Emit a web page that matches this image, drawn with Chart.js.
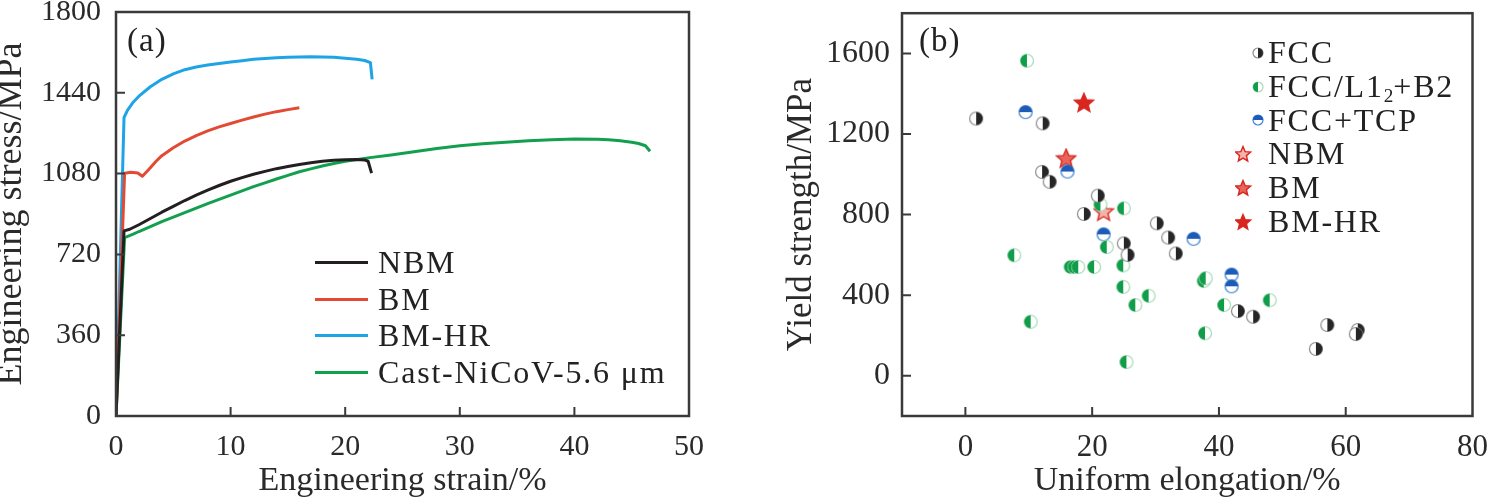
<!DOCTYPE html>
<html>
<head>
<meta charset="utf-8">
<script src="https://cdn.jsdelivr.net/npm/chart.js@4.4.1/dist/chart.umd.min.js"></script>
<style>
  html, body { margin: 0; padding: 0; background: #fff; }
  body { width: 1491px; height: 501px; position: relative; overflow: hidden;
         font-family: 'Liberation Serif', 'Times New Roman', serif; color: #222; }
  .panel { position: absolute; }
  .tag { position: absolute; font-size: 33px; line-height: 36px; letter-spacing: 1px; }
  .legend { position: absolute; font-size: 32px; letter-spacing: 1.8px; }
  .leg-row { display: flex; align-items: center; white-space: nowrap; }
  .leg-line { width: 53px; height: 3px; margin-right: 10px; flex: none; }
  .leg-mk { flex: none; margin-right: 1px; }
  sub { font-size: 60%; vertical-align: -0.28em; line-height: 0; letter-spacing: 0; }
</style>
</head>
<body>
<div class="panel" style="left:-8px;top:-21px;width:753px;height:522px"><canvas id="c-a"></canvas></div>
<div class="panel" style="left:745px;top:-18px;width:756px;height:519px"><canvas id="c-b"></canvas></div>
<div class="tag" style="left:127px;top:22px">(a)</div>
<div class="tag" style="left:919px;top:22px">(b)</div>
<div class="legend" id="leg-a" style="left:315px;top:244px;line-height:36.7px"></div>
<div class="legend" id="leg-b" style="left:1235px;top:36px;line-height:33.8px"></div>

<script>
// ---- (a) engineering stress-strain curves ----
const nbmStrain = [0, 0.7, 1.2, 2, 3, 4, 5, 6, 7, 8, 9, 10, 11, 12, 13, 14, 15, 16, 17, 18, 19, 20, 21, 21.7, 22.0, 22.3];
const nbmStress = [0, 825, 832, 852, 880, 908, 934, 960, 984, 1006, 1027, 1046, 1062, 1077, 1090, 1102, 1112, 1121, 1128, 1135, 1139, 1142, 1143, 1141, 1135, 1082];

const bmStrain = [0, 0.75, 1.3, 1.9, 2.3, 2.8, 3.5, 4, 5, 6, 7, 8, 9, 10, 11, 12, 13, 14, 15, 16];
const bmStress = [0, 1082, 1086, 1083, 1068, 1095, 1135, 1160, 1195, 1225, 1249, 1270, 1288, 1303, 1318, 1332, 1345, 1356, 1365, 1373];

const bmhrStrain = [0, 0.7, 1.0, 1.5, 2, 3, 4, 5, 6, 7, 8, 9, 10, 11, 12, 13, 14, 15, 16, 17, 18, 19, 20, 21, 21.7, 22.2, 22.35];
const bmhrStress = [0, 1330, 1362, 1398, 1425, 1467, 1500, 1524, 1543, 1555, 1564, 1571, 1577, 1583, 1589, 1593, 1596, 1598, 1600, 1601, 1600, 1598, 1594, 1589, 1584, 1574, 1500];

const castStrain = [0, 0.75, 1.5, 2, 3, 4, 5, 6, 7, 8, 9, 10, 11, 12, 13, 14, 15, 16, 17, 18, 19, 20, 22, 24, 26, 28, 30, 32, 34, 36, 38, 40, 42, 43, 44, 45, 45.6, 46.2, 46.6];
const castStress = [0, 795, 810, 822, 844, 866, 886, 906, 926, 946, 965, 984, 1003, 1022, 1039, 1056, 1072, 1088, 1101, 1114, 1125, 1135, 1150, 1163, 1177, 1192, 1204, 1213, 1220, 1226, 1231, 1234, 1233, 1231, 1226, 1220, 1214, 1204, 1180];

const strainTicks = [0, 10, 20, 30, 40, 50];
const stressTicks = [0, 360, 720, 1080, 1440, 1800];

// ---- (b) yield strength vs uniform elongation ----
const fccX = [1.7, 12.2, 12.1, 13.3, 20.9, 18.7, 30.2, 32.0, 25.0, 25.6, 33.2, 43.0, 45.4, 57.1, 61.9, 61.6, 55.3];
const fccY = [1277, 1253, 1012, 963, 894, 803, 757, 686, 657, 600, 607, 321, 293, 252, 227, 207, 133];

const l12X = [9.7, 21.3, 25.0, 22.3, 7.7, 16.6, 17.2, 17.8, 20.3, 24.9, 24.9, 28.9, 26.8, 10.3, 25.4, 37.6, 37.9, 48.0, 40.8, 37.8];
const l12Y = [1564, 850, 831, 639, 598, 540, 540, 540, 540, 548, 441, 397, 351, 268, 68, 470, 484, 375, 351, 211];

const tcpX = [9.5, 16.1, 21.8, 36.0, 42.0, 42.0];
const tcpY = [1309, 1014, 702, 680, 502, 444];

const nbmPt = [21.8, 815];
const bmPt = [15.9, 1078];
const bmhrPt = [18.7, 1355];

const elongTicks = [0, 20, 40, 60, 80];
const yieldTicks = [0, 400, 800, 1200, 1600];

const pts = (xs, ys) => xs.map((x, i) => ({ x, y: ys[i] }));

Chart.defaults.font.family = "'Liberation Serif', 'Times New Roman', serif";
Chart.defaults.color = '#2a2a2a';

// frame and inward tick marks, like the original plots
const frameTicks = {
  id: 'frameTicks',
  afterDraw(chart) {
    const { ctx, chartArea: a, scales } = chart;
    ctx.save();
    ctx.strokeStyle = '#3a3a3a';
    ctx.lineWidth = 2;
    ctx.beginPath();
    for (const t of scales.x.ticks) {
      const px = scales.x.getPixelForValue(t.value);
      if (px <= a.left + 2 || px >= a.right - 2) continue;
      ctx.moveTo(px, a.bottom); ctx.lineTo(px, a.bottom - 9);
    }
    for (const t of scales.y.ticks) {
      const py = scales.y.getPixelForValue(t.value);
      if (py <= a.top + 2 || py >= a.bottom - 2) continue;
      ctx.moveTo(a.left, py); ctx.lineTo(a.left + 9, py);
    }
    ctx.stroke();
    ctx.lineWidth = 2.5;
    ctx.strokeRect(a.left, a.top, a.right - a.left, a.bottom - a.top);
    ctx.restore();
  }
};

function axis(min, max, tickList, width, height, titleText, titleSize, titlePad, tickSize, tickPad) {
  return {
    type: 'linear', min, max,
    grid: { display: false, drawTicks: false },
    border: { display: false },
    afterBuildTicks: s => { s.ticks = tickList.map(v => ({ value: v })); },
    afterFit: s => { if (width) s.width = width; if (height) s.height = height; },
    ticks: { font: { size: tickSize }, padding: tickPad, color: '#2a2a2a', callback: v => String(v) },
    title: { display: true, text: titleText, color: '#2a2a2a',
             font: { size: titleSize, lineHeight: 1 }, padding: titlePad },
  };
}

// ---- chart (a) ----
const curves = [
  { label: 'NBM', color: '#231f20', xs: nbmStrain, ys: nbmStress },
  { label: 'BM', color: '#e34a33', xs: bmStrain, ys: bmStress },
  { label: 'BM-HR', color: '#1ea4e6', xs: bmhrStrain, ys: bmhrStress },
  { label: 'Cast-NiCoV-5.6 μm', color: '#12a04e', xs: castStrain, ys: castStress },
];

new Chart(document.getElementById('c-a'), {
  type: 'scatter',
  data: {
    datasets: curves.map(c => ({
      label: c.label, data: pts(c.xs, c.ys),
      showLine: true, borderColor: c.color, backgroundColor: c.color,
      borderWidth: 3, pointRadius: 0, tension: 0, borderJoinStyle: 'round',
    })),
  },
  options: {
    responsive: true, maintainAspectRatio: false, animation: false,
    layout: { padding: { top: 0, right: 56, left: 0, bottom: 0 } },
    plugins: { legend: { display: false }, tooltip: { enabled: false } },
    scales: {
      x: axis(0, 50, strainTicks, 0, 85, 'Engineering strain/%', 34, { top: 0, bottom: 3 }, 30, 13),
      y: axis(0, 1800, stressTicks, 124, 0, 'Engineering stress/MPa', 36, { top: 2, bottom: 0 }, 30, 15),
    },
  },
  plugins: [frameTicks],
});

document.getElementById('leg-a').innerHTML = curves.map(c =>
  `<div class="leg-row"><span class="leg-line" style="background:${c.color}"></span>${c.label}</div>`
).join('');

// ---- markers for chart (b) ----
function marker(w, h, draw) {
  const c = document.createElement('canvas');
  c.width = w; c.height = h;
  draw(c.getContext('2d'));
  return c;
}
function halfDot(cx, cy, r, edge, fill, from, to) {
  return g => {
    g.beginPath(); g.arc(cx, cy, r, 0, Math.PI * 2);
    g.fillStyle = '#ffffff'; g.fill();
    g.lineWidth = 1.2; g.strokeStyle = edge; g.stroke();
    g.beginPath(); g.arc(cx, cy, r, from, to); g.closePath();
    g.fillStyle = fill; g.fill();
  };
}
function star(cx, cy, R, fill, edge) {
  return g => {
    g.beginPath();
    for (let i = 0; i < 10; i++) {
      const rr = i % 2 ? R * 0.45 : R;
      const ang = -Math.PI / 2 + i * Math.PI / 5;
      g.lineTo(cx + rr * Math.cos(ang), cy + rr * Math.sin(ang));
    }
    g.closePath();
    g.fillStyle = fill; g.fill();
    g.lineWidth = 1.4; g.strokeStyle = edge; g.stroke();
  };
}
const P = Math.PI;
const kinds = [
  { label: 'FCC', html: 'FCC', xs: fccX, ys: fccY,
    mk: (cx, cy, r) => halfDot(cx, cy, r, '#8c8c8c', '#262626', -P / 2, P / 2), dot: true },
  { label: 'FCC/L1₂+B2', html: 'FCC/L1<sub>2</sub>+B2', xs: l12X, ys: l12Y,
    mk: (cx, cy, r) => halfDot(cx, cy, r, '#a6dab6', '#0f9d4a', P / 2, 3 * P / 2), dot: true },
  { label: 'FCC+TCP', html: 'FCC+TCP', xs: tcpX, ys: tcpY,
    mk: (cx, cy, r) => halfDot(cx, cy, r, '#3f7fd0', '#1c5cb8', P, 2 * P), dot: true },
  { label: 'NBM', html: 'NBM', xs: [nbmPt[0]], ys: [nbmPt[1]],
    mk: (cx, cy, r) => star(cx, cy, r, '#f4b3ab', '#d8271f'), dot: false },
  { label: 'BM', html: 'BM', xs: [bmPt[0]], ys: [bmPt[1]],
    mk: (cx, cy, r) => star(cx, cy, r, '#e8655c', '#d8271f'), dot: false },
  { label: 'BM-HR', html: 'BM-HR', xs: [bmhrPt[0]], ys: [bmhrPt[1]],
    mk: (cx, cy, r) => star(cx, cy, r, '#d9261e', '#d9261e'), dot: false },
];

new Chart(document.getElementById('c-b'), {
  type: 'scatter',
  data: {
    datasets: kinds.map(k => ({
      label: k.label, data: pts(k.xs, k.ys),
      pointStyle: k.dot ? marker(16, 16, k.mk(8, 8, 6.5)) : marker(22, 22, k.mk(11, 11.5, 10)),
      pointRadius: 7,
    })),
  },
  options: {
    responsive: true, maintainAspectRatio: false, animation: false,
    layout: { padding: { top: 0, right: 0, left: 0, bottom: 0 } },
    plugins: { legend: { display: false }, tooltip: { enabled: false } },
    scales: {
      x: axis(-10, 80, elongTicks, 0, 85, 'Uniform elongation/%', 34, { top: 0, bottom: 3 }, 31, 13),
      y: axis(-200, 1800, yieldTicks, 157, 0, 'Yield strength/MPa', 35, { top: 39, bottom: 0 }, 32, 12),
    },
  },
  plugins: [frameTicks],
});

const legB = document.getElementById('leg-b');
kinds.forEach(k => {
  const row = document.createElement('div');
  row.className = 'leg-row';
  const mk = k.dot ? marker(32, 20, k.mk(23, 10, 5)) : marker(32, 20, k.mk(8, 10.5, 8));
  mk.className = 'leg-mk';
  row.appendChild(mk);
  const txt = document.createElement('span');
  txt.innerHTML = k.html;
  row.appendChild(txt);
  legB.appendChild(row);
});
</script>
</body>
</html>
